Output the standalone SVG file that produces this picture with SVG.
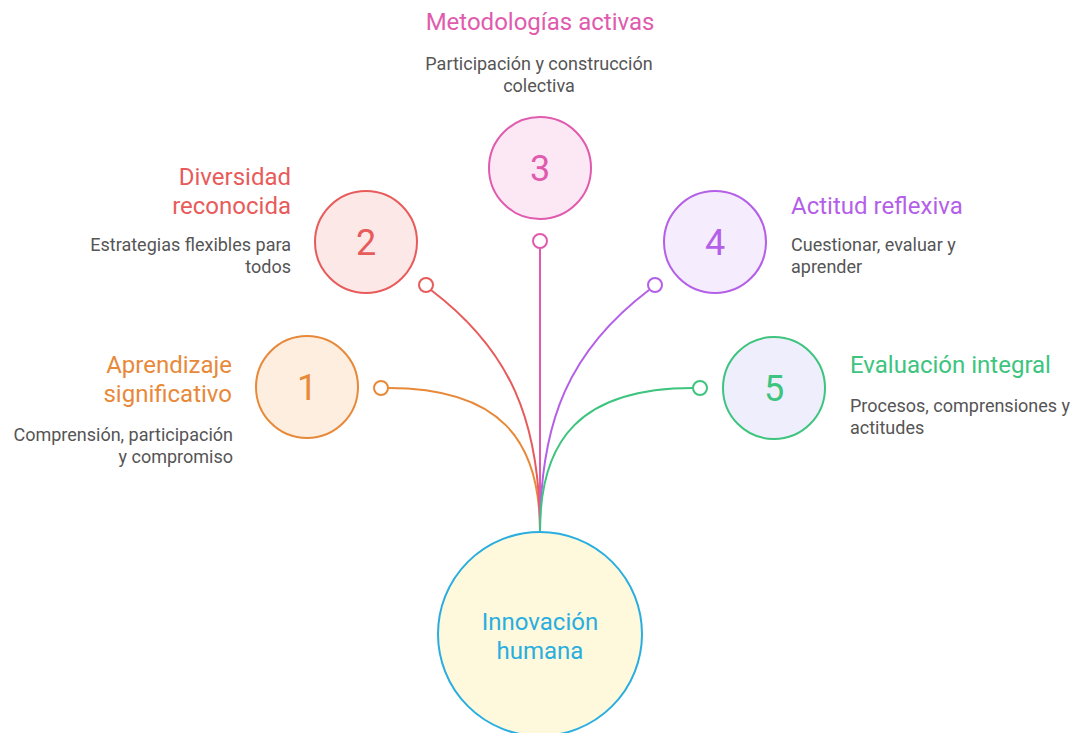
<svg xmlns="http://www.w3.org/2000/svg" width="1075" height="733" viewBox="0 0 1075 733">
<style>
text{font-family:Roboto,"Liberation Sans",sans-serif}
.t{font-size:24px}
.d{font-size:18px;fill:#555}
.n{font-size:36px;text-anchor:middle}
.c{stroke-width:2}
.l{fill:none;stroke-width:2}
.dot{fill:#fff;stroke-width:2}
</style>
<rect width="1075" height="733" fill="#fff"/>
<g id="connectors">
<path class="l" stroke="#E8893A" d="M388 388 C500 388 540 440 540 531"/>
<path class="l" stroke="#E85B5B" d="M431 290 C510 350 540 420 540 531"/>
<path class="l" stroke="#E05BAE" d="M540 248 L540 531"/>
<path class="l" stroke="#B45FE8" d="M649 290 C570 350 540 420 540 531"/>
<path class="l" stroke="#3DC47E" d="M693 388 C580 388 540 440 540 531"/>
<circle class="dot" stroke="#E8893A" cx="381" cy="388" r="7"/>
<circle class="dot" stroke="#E85B5B" cx="426" cy="285" r="7"/>
<circle class="dot" stroke="#E05BAE" cx="540" cy="241" r="7"/>
<circle class="dot" stroke="#B45FE8" cx="655" cy="285" r="7"/>
<circle class="dot" stroke="#3DC47E" cx="700" cy="388" r="7"/>
</g>
<g id="center">
<circle class="c" cx="540" cy="634" r="102" fill="#FEF9DC" stroke="#2AAEE0"/>
<text class="t" x="540" y="630" text-anchor="middle" fill="#2AAEE0">Innovación</text>
<text class="t" x="540" y="659" text-anchor="middle" fill="#2AAEE0">humana</text>
</g>
<g id="n1">
<circle class="c" cx="307" cy="387" r="51" fill="#FDEEE0" stroke="#E8893A"/>
<text class="n" x="307" y="400" fill="#E8893A">1</text>
<text class="t" x="232" y="373" text-anchor="end" fill="#E8893A">Aprendizaje</text>
<text class="t" x="232" y="402" text-anchor="end" fill="#E8893A">significativo</text>
<text class="d" x="233" y="441" text-anchor="end">Comprensión, participación</text>
<text class="d" x="233" y="463" text-anchor="end">y compromiso</text>
</g>
<g id="n2">
<circle class="c" cx="366" cy="242" r="51" fill="#FDE8E8" stroke="#E85B5B"/>
<text class="n" x="366" y="255" fill="#E85B5B">2</text>
<text class="t" x="291" y="185" text-anchor="end" fill="#E85B5B">Diversidad</text>
<text class="t" x="291" y="214" text-anchor="end" fill="#E85B5B">reconocida</text>
<text class="d" x="291" y="251" text-anchor="end">Estrategias flexibles para</text>
<text class="d" x="291" y="273" text-anchor="end">todos</text>
</g>
<g id="n3">
<circle class="c" cx="540" cy="168" r="51" fill="#FCE8F5" stroke="#E05BAE"/>
<text class="n" x="540" y="181" fill="#E05BAE">3</text>
<text class="t" x="540" y="30" text-anchor="middle" fill="#E05BAE">Metodologías activas</text>
<text class="d" x="539" y="70" text-anchor="middle">Participación y construcción</text>
<text class="d" x="539" y="92" text-anchor="middle">colectiva</text>
</g>
<g id="n4">
<circle class="c" cx="715" cy="242" r="51" fill="#F5ECFD" stroke="#B45FE8"/>
<text class="n" x="715" y="255" fill="#B45FE8">4</text>
<text class="t" x="791" y="214" fill="#B45FE8">Actitud reflexiva</text>
<text class="d" x="791" y="251">Cuestionar, evaluar y</text>
<text class="d" x="791" y="273">aprender</text>
</g>
<g id="n5">
<circle class="c" cx="774" cy="388" r="51" fill="#EFEEFC" stroke="#3DC47E"/>
<text class="n" x="774" y="401" fill="#3DC47E">5</text>
<text class="t" x="850" y="373" fill="#3DC47E">Evaluación integral</text>
<text class="d" x="850" y="412">Procesos, comprensiones y</text>
<text class="d" x="850" y="434">actitudes</text>
</g>
</svg>
